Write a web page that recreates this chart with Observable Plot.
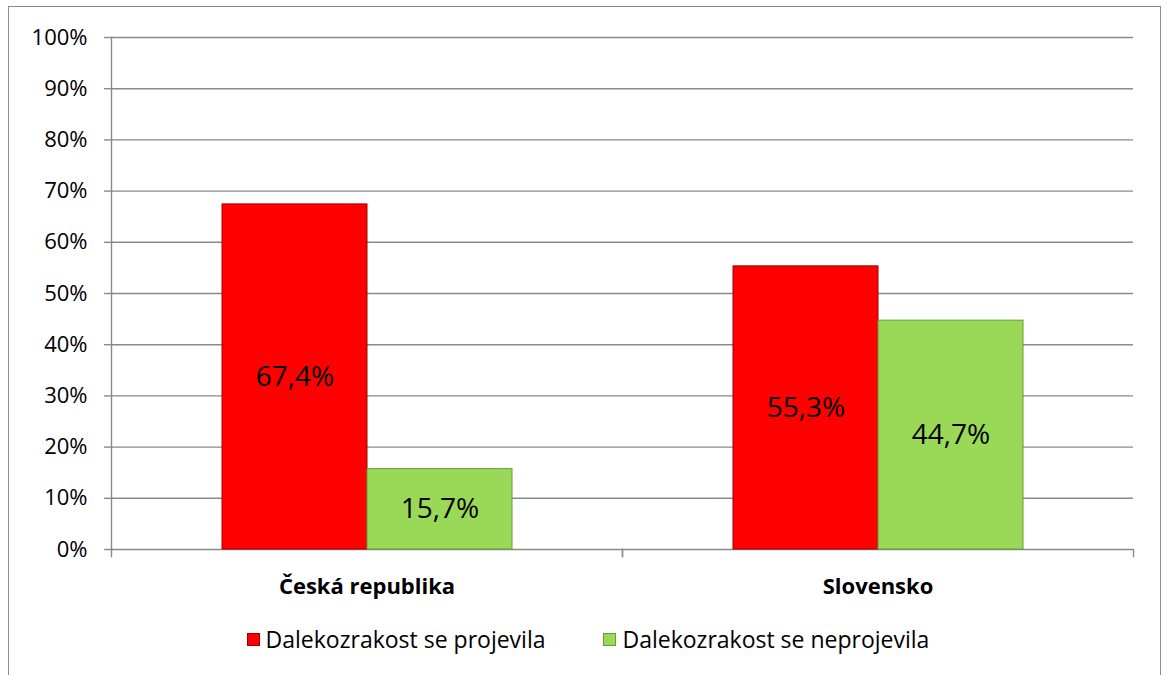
<!DOCTYPE html>
<html><head><meta charset="utf-8">
<script src="https://cdn.jsdelivr.net/npm/d3@7"></script>
<script src="https://cdn.jsdelivr.net/npm/@observablehq/plot@0.6"></script>
<style>
body{margin:0;background:#fff;font-family:"Open Sans",sans-serif;}
#wrap{position:relative;width:1168px;height:675px;overflow:hidden;background:#fff;}
#border{position:absolute;left:8px;top:6px;width:1153px;height:720px;border:1.5px solid #8c8c8c;box-sizing:border-box;}
#chart{position:absolute;left:0;top:0;}
#legend{position:absolute;top:624px;left:4px;width:1168px;display:flex;justify-content:center;gap:58px;font-size:23px;color:#000;line-height:30px;}
#legend .item{display:flex;align-items:center;gap:6px;}
#legend .sw{display:inline-block;width:13px;height:13px;box-sizing:border-box;}
</style></head>
<body>
<div id="wrap"><div id="border"></div><div id="chart"></div><div id="legend"></div></div>
<script>
const categories = ["Česká republika", "Slovensko"];
const series = ["Dalekozrakost se projevila", "Dalekozrakost se neprojevila"];
const projevila = [67.4, 55.3];
const neprojevila = [15.7, 44.7];
const yTicks = [0, 10, 20, 30, 40, 50, 60, 70, 80, 90, 100];
const colors = ["#fe0000", "#9ad957"];
const edgeColors = ["#a00000", "#6a9a3a"];

const data = [];
categories.forEach((c, i) => {
  data.push({category: c, series: series[0], value: projevila[i]});
  data.push({category: c, series: series[1], value: neprojevila[i]});
});

const fmt = v => v.toFixed(1).replace(".", ",") + "%";
const grey = "#8a8a8a";

const chart = Plot.plot({
  width: 1168, height: 600,
  marginLeft: 110, marginRight: 35, marginTop: 37, marginBottom: 51,
  style: {fontFamily: "'Open Sans', sans-serif", background: "transparent", color: "#000"},
  fx: {domain: categories, padding: 0, label: null},
  x: {domain: series, paddingInner: 0, paddingOuter: 0.755, axis: null},
  y: {domain: [0, 100], label: null},
  color: {domain: series, range: colors},
  marks: [
    Plot.gridY(yTicks, {stroke: grey, strokeOpacity: 1, strokeWidth: 1.4}),
    Plot.axisY(yTicks, {tickSize: 7, tickPadding: 17, tickFormat: d => d + "%", fontSize: 22, stroke: grey, strokeWidth: 1.4, label: null}),
    Plot.frame({anchor: "left", facetAnchor: "left", stroke: grey, strokeWidth: 1.4}),
    Plot.frame({anchor: "left", stroke: grey, strokeWidth: 1.4, insetTop: 512, insetBottom: -7}),
    Plot.frame({anchor: "right", stroke: grey, strokeWidth: 1.4, insetTop: 512, insetBottom: -7}),
    Plot.barY(data, {fx: "category", x: "series", y: "value", fill: "series",
      stroke: d => edgeColors[series.indexOf(d.series)], strokeWidth: 1}),
    Plot.text(data, {fx: "category", x: "series", y: d => d.value / 2, text: d => fmt(d.value), fontSize: 28, fill: "#000"}),
    Plot.axisFx({anchor: "bottom", tickSize: 0, tickPadding: 29, fontWeight: "bold", fontSize: 22, label: null})
  ]
});
document.getElementById("chart").appendChild(chart);

const legend = document.getElementById("legend");
series.forEach((s, i) => {
  const item = document.createElement("div");
  item.className = "item";
  const sw = document.createElement("span");
  sw.className = "sw";
  sw.style.background = colors[i];
  sw.style.border = "1px solid " + edgeColors[i];
  const t = document.createElement("span");
  t.textContent = s;
  item.appendChild(sw); item.appendChild(t);
  legend.appendChild(item);
});
</script>
</body></html>
